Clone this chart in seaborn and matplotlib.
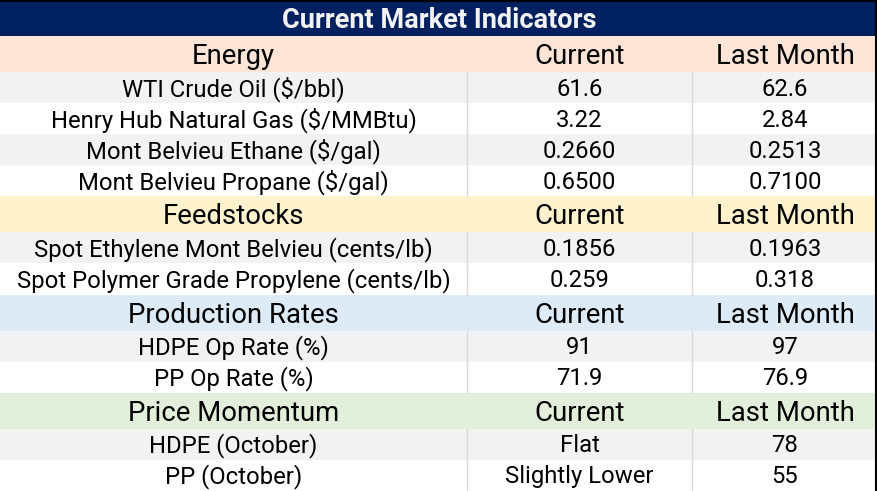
import matplotlib
matplotlib.use("Agg")
import matplotlib.pyplot as plt
import seaborn as sns
import pandas as pd

# Table content
title = "Current Market Indicators"
col_headers = ["Current", "Last Month"]

sections = ["Energy", "Feedstocks", "Production Rates", "Price Momentum"]
section_colors = ["#FCE4D6", "#FFF2CC", "#DDEBF7", "#E2EFDA"]

energy_items = ["WTI Crude Oil ($/bbl)", "Henry Hub Natural Gas ($/MMBtu)",
                "Mont Belvieu Ethane ($/gal)", "Mont Belvieu Propane ($/gal)"]
energy_current = ["61.6", "3.22", "0.2660", "0.6500"]
energy_last = ["62.6", "2.84", "0.2513", "0.7100"]

feed_items = ["Spot Ethylene Mont Belvieu (cents/lb)",
              "Spot Polymer Grade Propylene (cents/lb)"]
feed_current = ["0.1856", "0.259"]
feed_last = ["0.1963", "0.318"]

prod_items = ["HDPE Op Rate (%)", "PP Op Rate (%)"]
prod_current = ["91", "71.9"]
prod_last = ["97", "76.9"]

momentum_items = ["HDPE (October)", "PP (October)"]
momentum_current = ["Flat", "Slightly Lower"]
momentum_last = ["78", "55"]

section_rows = [
    (energy_items, energy_current, energy_last),
    (feed_items, feed_current, feed_last),
    (prod_items, prod_current, prod_last),
    (momentum_items, momentum_current, momentum_last),
]

# Build a row table: kind, label, current, last, colour
rows = []
for name, color, (items, cur, last) in zip(sections, section_colors, section_rows):
    rows.append({"kind": "header", "c0": name, "c1": col_headers[0],
                 "c2": col_headers[1], "color": color})
    for i, (it, c, l) in enumerate(zip(items, cur, last)):
        rows.append({"kind": "data", "c0": it, "c1": c, "c2": l,
                     "color": "#F2F2F2" if i % 2 == 0 else "#FFFFFF"})
df = pd.DataFrame(rows)

W, H = 878, 491
title_h = 36
header_h = 36
data_h = (H - title_h - header_h * len(sections)) / (df["kind"] == "data").sum()
df["height"] = df["kind"].map({"header": header_h, "data": data_h})
df["top"] = title_h + df["height"].cumsum() - df["height"]
df["mid"] = df["top"] + df["height"] / 2

col_edges = [0, 467, 692, W]
col_mid = [(a + b) / 2 for a, b in zip(col_edges[:-1], col_edges[1:])]

sns.set_theme(style="white")
plt.rcParams["font.family"] = ["Roboto", "DejaVu Sans"]

fig = plt.figure(figsize=(W / 100, H / 100), dpi=100)
ax = fig.add_axes([0, 0, 1, 1])
ax.set_xlim(0, W)
ax.set_ylim(H, 0)
ax.axis("off")

# title bar
ax.barh(title_h / 2, W - 2, height=title_h, left=0, color="#002060", linewidth=0)
ax.text(W / 2, title_h / 2 + 2, title, ha="center", va="center",
        fontsize=19.5, fontweight="bold", color="#F2F2F2")

# row backgrounds
ax.barh(df["mid"], W - 2, height=df["height"], left=0, color=df["color"], linewidth=0)

# column separators in data rows
for _, r in df[df["kind"] == "data"].iterrows():
    for x in col_edges[1:-1]:
        ax.plot([x, x], [r["top"], r["top"] + r["height"]], color="#D9D9D9", lw=1)

# texts
for _, r in df.iterrows():
    if r["kind"] == "header":
        size, dy = 19.8, 2.5
    else:
        size, dy = 17.2, 1.5
    for j, key in enumerate(["c0", "c1", "c2"]):
        ax.text(col_mid[j], r["mid"] + dy, r[key], ha="center", va="center",
                fontsize=size, color="black")

# outer border (top and right)
ax.plot([0, W - 1.5], [0.75, 0.75], color="black", lw=1.5)
ax.plot([W - 1.5, W - 1.5], [0, H], color="black", lw=1.5)

fig.savefig("out.png", dpi=100)
plt.close(fig)
